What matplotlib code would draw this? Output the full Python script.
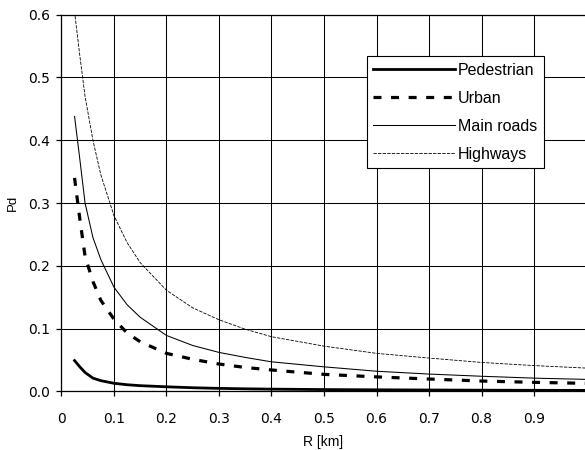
import numpy as np
import matplotlib
matplotlib.use("Agg")
import matplotlib.pyplot as plt

plt.rcParams['font.family'] = ['Liberation Sans', 'DejaVu Sans']

# distance R [km]
r_km = [0.025, 0.035, 0.045, 0.06, 0.075, 0.1, 0.125, 0.15, 0.2, 0.25,
        0.3, 0.35, 0.4, 0.5, 0.6, 0.7, 0.8, 0.9, 1.0]

pd_pedestrian = [0.049, 0.039, 0.030, 0.021, 0.017, 0.0128, 0.0105, 0.009,
                 0.0072, 0.0057, 0.0047, 0.0040, 0.0035, 0.0028, 0.0024,
                 0.0021, 0.0018, 0.0016, 0.0015]
pd_urban = [0.34, 0.275, 0.215, 0.175, 0.145, 0.115, 0.093, 0.079, 0.0605,
            0.051, 0.0435, 0.038, 0.034, 0.027, 0.023, 0.0196, 0.0164,
            0.0143, 0.0127]
pd_main = [0.438, 0.37, 0.30, 0.245, 0.21, 0.166, 0.138, 0.118, 0.089,
           0.073, 0.062, 0.054, 0.047, 0.039, 0.032, 0.0275, 0.024, 0.021,
           0.019]
pd_highway = [0.605, 0.535, 0.47, 0.40, 0.345, 0.28, 0.237, 0.205, 0.161,
              0.133, 0.114, 0.099, 0.087, 0.072, 0.0605, 0.053, 0.046,
              0.041, 0.037]

labels = ["Pedestrian", "Urban", "Main roads", "Highways"]
x_ticks = [0, 0.1, 0.2, 0.3, 0.4, 0.5, 0.6, 0.7, 0.8, 0.9]
x_ticklabels = ["0", "0.1", "0.2", "0.3", "0.4", "0.5", "0.6", "0.7", "0.8", "0.9"]
y_ticks = [0.0, 0.1, 0.2, 0.3, 0.4, 0.5, 0.6]

fig = plt.figure(figsize=(5.85, 4.5), dpi=100)
ax = fig.add_axes([0.105, 0.1304, 0.895, 0.8369])

ax.plot(r_km, pd_pedestrian, color='black', lw=2.0, label=labels[0])
ax.plot(r_km, pd_urban, color='black', lw=2.3, ls=(0, (2.5, 3.0)), label=labels[1])
ax.plot(r_km, pd_main, color='black', lw=0.75, label=labels[2])
ax.plot(r_km, pd_highway, color='black', lw=0.6, ls=(0, (4, 1.5)), label=labels[3])

ax.set_xlim(0, 0.997)
ax.set_ylim(0, 0.6)
ax.set_xticks(x_ticks)
ax.set_xticklabels(x_ticklabels, family='DejaVu Sans', fontsize=10)
ax.set_yticks(y_ticks)
ax.set_yticklabels(["%.1f" % v for v in y_ticks], family='DejaVu Sans', fontsize=10)
ax.grid(True, color='black', lw=0.75)
ax.set_axisbelow(True)

ax.spines['right'].set_visible(False)
for s in ['left', 'bottom', 'top']:
    ax.spines[s].set_linewidth(0.9)
ax.tick_params(direction='out', length=3.6, width=0.9, colors='black')
ax.tick_params(axis='x', pad=11.5)
ax.tick_params(axis='y', pad=4.5)

ax.set_xlabel("R [km]", fontsize=10, labelpad=6)
ax.set_ylabel("Pd", fontsize=9.5)
ax.yaxis.set_label_coords(-0.081, 0.5)

leg = ax.legend(loc='upper left', bbox_to_anchor=(0.583, 0.890), fontsize=11.5,
                frameon=True, fancybox=False, edgecolor='black', framealpha=1,
                handlelength=5.1, handletextpad=0.2, labelspacing=0.81,
                borderpad=0.42, borderaxespad=0)
leg.get_frame().set_linewidth(0.8)

fig.savefig("out.png", dpi=100)
